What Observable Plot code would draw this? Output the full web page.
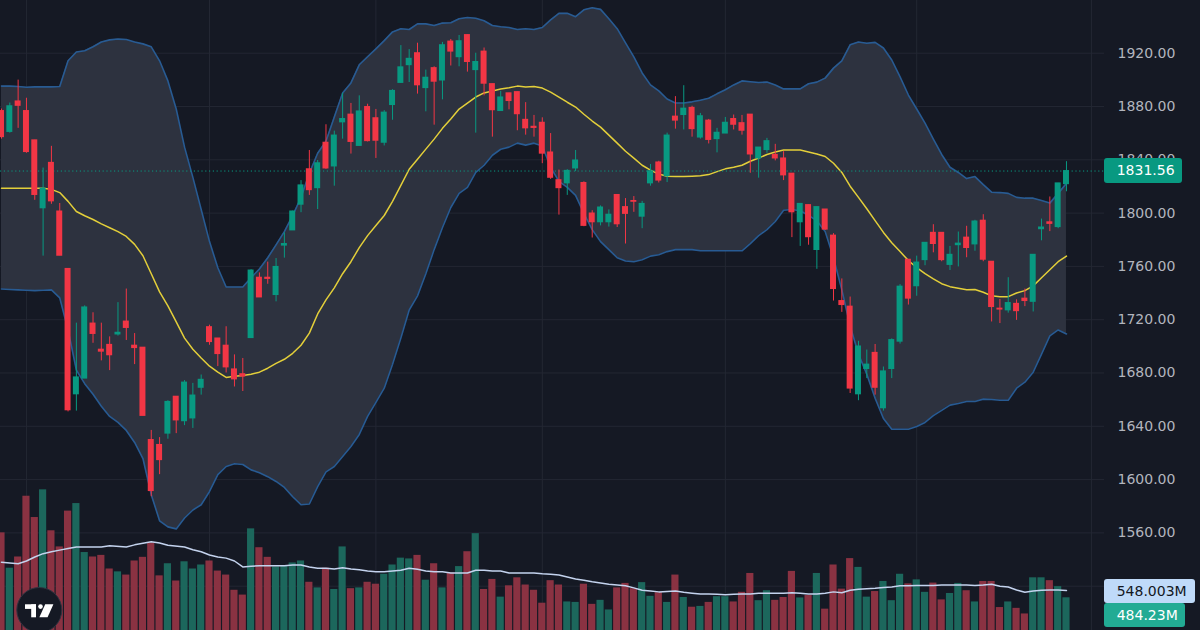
<!DOCTYPE html>
<html><head><meta charset="utf-8">
<script src="https://cdn.jsdelivr.net/npm/d3@7"></script>
<script src="https://cdn.jsdelivr.net/npm/@observablehq/plot@0.6"></script>
<style>
html,body{margin:0;padding:0;background:#151924;}
#chart{position:relative;width:1200px;height:630px;overflow:hidden;background:#151924;font-family:"DejaVu Sans",sans-serif;}
#chart svg{position:absolute;left:0;top:0;}
.lbl{position:absolute;box-sizing:border-box;font:14px "DejaVu Sans",sans-serif;white-space:nowrap;}
</style></head><body><div id="chart"></div>
<script>
// ---- candles (OHLC) ----
const opens = [1876.6,1860.9,1883.8,1876.6,1854.6,1803.6,1837.7,1801.2,1758.1,1664.0,
1675.8,1717.1,1697.5,1701.1,1708.9,1718.6,1700.5,1699.0,1629.7,1626.0,
1634.5,1662.2,1643.8,1645.9,1668.9,1714.4,1705.9,1700.5,1682.7,1679.1,
1706.2,1751.5,1751.5,1738.5,1775.6,1787.0,1806.3,1832.9,1818.7,1852.8,
1835.0,1868.1,1873.9,1850.4,1879.6,1871.2,1852.8,1881.1,1897.7,1911.0,
1920.0,1893.8,1908.8,1899.5,1928.7,1917.0,1933.6,1907.3,1921.2,1896.8,
1876.6,1889.9,1890.8,1870.0,1864.8,1867.8,1845.5,1824.7,1822.3,1833.5,
1822.6,1799.7,1793.1,1793.1,1813.6,1804.5,1809.1,1797.3,1822.3,1838.0,
1827.7,1872.4,1873.6,1879.0,1856.7,1869.4,1855.5,1859.7,1870.6,1867.5,
1873.9,1841.0,1847.3,1843.7,1841.0,1829.6,1793.1,1806.0,1772.3,1802.7,
1783.1,1734.0,1729.8,1664.0,1683.0,1695.1,1653.5,1683.0,1703.5,1765.0,
1745.1,1764.7,1785.2,1785.2,1761.1,1775.9,1781.6,1776.5,1794.3,1763.5,
1728.3,1727.0,1731.9,1735.8,1733.4,1787.9,1793.1,1789.5,1821.7];
const highs = [1878.1,1882.6,1899.8,1886.2,1854.6,1833.8,1850.1,1807.2,1758.1,1717.4,
1730.4,1725.2,1717.4,1707.1,1732.8,1743.0,1709.6,1699.0,1636.9,1631.5,
1659.2,1662.2,1674.3,1672.2,1678.5,1715.9,1705.9,1714.7,1693.6,1690.9,
1757.5,1755.1,1763.2,1765.9,1785.2,1801.5,1824.4,1847.0,1839.5,1866.3,
1861.5,1889.9,1882.3,1888.0,1881.7,1877.8,1876.9,1892.6,1925.7,1922.7,
1927.5,1907.3,1909.8,1928.1,1930.3,1933.3,1933.6,1920.0,1923.9,1896.8,
1891.4,1889.9,1890.8,1882.9,1873.3,1871.5,1859.7,1832.3,1832.6,1847.0,
1823.5,1801.8,1805.4,1802.4,1813.6,1810.9,1812.4,1808.8,1836.5,1838.9,
1860.0,1887.4,1895.6,1880.2,1874.8,1870.3,1863.6,1871.8,1873.6,1873.3,
1873.9,1849.2,1856.1,1851.6,1846.1,1829.6,1806.9,1806.0,1804.5,1802.7,
1784.6,1750.6,1737.0,1703.8,1697.2,1701.4,1684.5,1705.6,1746.3,1765.0,
1767.7,1777.7,1791.3,1785.2,1775.0,1785.8,1790.1,1794.6,1798.8,1763.5,
1735.2,1751.5,1734.9,1743.0,1768.7,1795.5,1812.1,1822.3,1838.6];
const lows = [1855.5,1860.0,1863.6,1844.9,1809.6,1767.7,1806.6,1768.0,1650.8,1651.4,
1675.8,1702.3,1689.1,1681.8,1707.7,1704.4,1686.3,1647.8,1587.1,1603.7,
1630.3,1634.5,1640.5,1638.4,1663.4,1700.8,1684.8,1680.0,1669.5,1666.1,
1706.2,1736.7,1746.6,1733.4,1766.2,1787.0,1800.3,1813.3,1802.7,1832.9,
1820.2,1855.5,1844.3,1850.4,1853.4,1841.0,1850.4,1869.7,1897.4,1898.0,
1889.3,1876.0,1866.0,1885.0,1910.4,1909.8,1905.8,1860.0,1888.0,1857.0,
1876.6,1877.5,1861.8,1858.5,1857.0,1837.1,1825.3,1798.5,1813.3,1831.1,
1789.8,1781.3,1790.4,1789.5,1789.2,1776.8,1800.6,1788.3,1820.2,1822.6,
1822.9,1863.0,1862.4,1857.0,1855.5,1851.9,1845.2,1859.7,1862.4,1858.5,
1829.9,1826.2,1844.9,1839.2,1824.4,1781.6,1775.0,1775.9,1757.8,1787.0,
1734.0,1725.5,1664.6,1659.2,1675.8,1663.4,1651.4,1675.8,1701.7,1731.0,
1737.6,1760.5,1770.2,1763.5,1756.9,1759.6,1766.5,1771.4,1763.5,1718.3,
1717.1,1724.9,1719.5,1729.8,1725.8,1779.2,1786.1,1788.3,1816.0];
const closes = [1857.0,1880.2,1880.5,1845.8,1813.6,1818.4,1808.8,1768.0,1652.0,1676.7,
1729.2,1709.3,1696.0,1693.3,1710.2,1713.8,1698.7,1647.8,1591.4,1614.6,
1658.3,1644.4,1672.8,1663.1,1674.9,1703.2,1694.2,1684.2,1675.2,1677.3,
1756.9,1736.7,1750.6,1759.6,1776.8,1801.2,1820.8,1817.2,1837.4,1833.5,
1858.2,1870.6,1853.4,1876.3,1854.0,1854.3,1875.4,1891.7,1909.4,1915.8,
1895.9,1901.6,1898.6,1926.0,1921.2,1929.0,1913.4,1913.4,1897.1,1877.2,
1886.8,1884.1,1874.2,1863.6,1863.9,1844.6,1826.5,1818.7,1831.7,1839.5,
1790.4,1793.1,1804.2,1798.8,1791.6,1799.4,1808.5,1806.9,1831.4,1824.4,
1858.2,1869.4,1878.4,1863.0,1872.7,1854.9,1860.3,1867.8,1866.3,1861.8,
1844.0,1849.2,1854.0,1841.0,1828.3,1800.6,1806.9,1781.9,1804.5,1787.6,
1743.0,1731.0,1668.3,1699.9,1686.3,1668.9,1681.2,1704.7,1744.8,1735.8,
1762.9,1777.7,1776.8,1764.7,1768.7,1777.1,1773.8,1793.7,1765.0,1729.5,
1727.6,1732.5,1726.4,1734.0,1768.7,1789.2,1791.9,1822.3,1831.56];

// ---- volume (millions) ----
const volumes = [1052,743,841,1372,1186,1428,1070,929,1242,1308,
880,841,855,736,711,683,806,838,964,676,
782,631,799,736,771,806,718,683,550,508,
1087,922,838,754,761,789,806,620,571,743,
557,929,564,571,620,603,690,771,831,824,
855,638,782,571,701,757,887,1045,557,645,
490,589,659,596,550,437,634,596,448,444,
603,427,462,378,571,610,564,617,497,529,
444,683,487,402,409,444,494,494,448,532,
697,459,546,462,487,715,483,504,697,385,
771,560,827,750,490,539,627,459,690,606,
641,532,613,466,522,610,546,448,627,627,
399,448,392,343,659,659,634,582,484.23];
const volMaIdx = [0,2,3,4,5,6,7,8,9,12,13,15,16,18,19,20,22,23,24,25,26,27,28,29,30,31,34,35,36,37,38,39,40,41,42,43,44,45,46,47,48,49,50,51,52,53,54,56,57,58,59,60,61,64,65,66,67,68,69,70,71,72,73,74,75,76,77,78,79,80,81,82,83,84,85,86,87,88,89,90,91,94,95,96,97,98,99,100,101,102,103,104,105,106,107,108,109,110,112,113,116,117,118,119,120,121,122,123,124,125,126,127,128];
const volMaVals = [796,782,806,841,870,887,901,915,929,929,940,929,947,975,964,943,929,905,887,859,841,831,806,754,761,764,764,771,771,754,743,743,736,747,736,729,718,711,711,718,725,743,733,718,711,711,701,701,725,725,718,718,701,701,694,690,683,666,648,638,624,613,603,596,589,571,550,543,536,539,543,532,525,518,518,515,511,515,518,518,525,525,529,525,518,518,525,536,529,550,560,564,567,575,578,589,589,592,592,596,596,592,596,603,585,578,553,532,543,550,553,553,548.003];

// ---- Bollinger bands (read per candle) ----
const bbUpper = [1895.3,1895.3,1895.0,1894.4,1894.7,1894.7,1894.7,1895.0,1914.3,1920.9,
1921.8,1924.8,1928.4,1930.0,1930.6,1930.3,1928.4,1927.0,1924.8,1914.3,
1899.2,1878.1,1849.5,1826.8,1802.7,1778.6,1759.0,1744.5,1744.5,1744.5,
1751.5,1758.1,1766.5,1776.2,1786.1,1798.2,1811.8,1829.9,1844.9,1854.0,
1872.1,1890.2,1897.7,1911.3,1917.3,1923.3,1929.4,1936.0,1938.4,1937.8,
1942.0,1942.0,1940.8,1942.6,1942.9,1945.9,1946.8,1946.2,1944.4,1940.8,
1939.9,1939.3,1937.8,1938.4,1937.8,1939.3,1945.0,1949.9,1949.9,1947.4,
1952.6,1954.1,1952.9,1945.9,1938.4,1927.8,1917.3,1905.2,1896.2,1891.7,
1885.6,1882.6,1882.6,1883.5,1884.7,1886.2,1889.5,1892.6,1896.2,1899.2,
1898.6,1898.0,1898.3,1896.2,1893.2,1893.2,1893.2,1897.1,1898.3,1901.3,
1908.8,1914.3,1926.3,1928.4,1927.5,1928.1,1923.9,1914.9,1902.2,1888.6,
1878.1,1867.5,1855.5,1844.0,1834.4,1830.5,1825.9,1827.4,1821.4,1815.7,
1815.4,1814.8,1811.8,1811.2,1811.2,1809.4,1807.5,1814.8,1822.3];
const bbMiddle = [1818.7,1818.7,1818.7,1818.7,1818.7,1818.7,1817.8,1815.4,1808.8,1801.2,
1798.0,1795.2,1791.9,1789.0,1786.1,1782.5,1776.5,1768.0,1754.5,1740.9,
1730.4,1718.3,1706.2,1697.8,1691.2,1685.1,1680.6,1676.7,1677.6,1678.2,
1679.1,1680.6,1683.6,1687.2,1690.3,1694.8,1700.8,1709.9,1724.3,1734.9,
1743.9,1754.5,1763.5,1774.1,1783.1,1790.7,1798.2,1808.8,1820.8,1832.9,
1840.4,1848.0,1855.5,1863.6,1870.6,1878.1,1882.6,1887.1,1890.2,1891.7,
1893.2,1894.1,1895.3,1894.7,1895.0,1893.8,1890.8,1887.1,1883.2,1879.6,
1874.2,1869.1,1864.5,1858.5,1852.5,1846.4,1841.3,1835.9,1832.3,1829.3,
1827.7,1827.4,1827.4,1827.7,1828.0,1828.9,1831.1,1833.2,1834.4,1835.9,
1838.9,1841.3,1844.0,1845.8,1847.3,1847.3,1847.3,1845.8,1844.3,1842.5,
1837.4,1830.5,1820.2,1811.8,1803.3,1794.3,1785.5,1777.7,1771.1,1764.4,
1759.0,1754.5,1750.6,1747.0,1744.8,1743.6,1742.4,1742.7,1740.6,1737.9,
1737.3,1737.3,1740.0,1741.8,1745.4,1751.5,1757.5,1763.5,1767.7];
const bbLower = [1743.0,1742.7,1742.4,1742.1,1741.8,1742.1,1742.4,1736.4,1712.3,1682.1,
1672.0,1664.0,1655.0,1647.4,1642.9,1636.9,1627.9,1615.8,1588.7,1569.1,
1564.5,1563.0,1571.2,1577.2,1581.1,1591.1,1603.7,1609.8,1611.9,1611.3,
1607.3,1605.2,1602.2,1598.6,1594.1,1587.1,1581.1,1581.7,1594.7,1605.8,
1609.8,1617.3,1624.8,1633.9,1647.4,1658.0,1668.6,1686.6,1706.2,1727.3,
1737.9,1754.5,1772.6,1789.2,1804.2,1814.8,1819.3,1830.5,1835.9,1843.4,
1847.9,1849.5,1852.5,1851.0,1852.5,1850.4,1834.4,1823.8,1819.3,1813.3,
1799.7,1787.6,1778.6,1772.6,1766.5,1764.1,1763.5,1765.0,1767.7,1768.7,
1771.1,1772.6,1772.6,1772.6,1771.7,1771.7,1771.7,1771.7,1771.7,1771.7,
1777.1,1783.1,1787.6,1793.7,1802.1,1802.7,1801.8,1798.2,1794.3,1786.1,
1766.5,1742.4,1715.3,1694.2,1679.1,1661.0,1645.9,1637.8,1637.8,1637.8,
1639.9,1642.9,1648.0,1652.0,1655.9,1657.1,1658.6,1658.6,1660.4,1660.1,
1659.5,1659.5,1668.6,1673.1,1680.6,1694.2,1707.8,1712.3,1709.3];

// ---- axis ----
const priceTicks = [1560,1600,1640,1680,1720,1760,1800,1840,1880,1920];
const gridTicks = [1520,1560,1600,1640,1680,1720,1760,1800,1840,1880,1920];
const monthStarts = [3,25,45,65,87,110,131];

// ---- build ----
const GREEN = "#089981", RED = "#f23645";
const VOL_UP = "#1c675c", VOL_DOWN = "#8a3242";
const GRID = "#232733", BAND_FILL = "#2d323f", BAND_LINE = "#285b93", MID = "#e3cf3a";

const candles = d3.range(opens.length).map(i => ({
  i, open: opens[i], high: highs[i], low: lows[i], close: closes[i], vol: volumes[i],
  up: closes[i] >= opens[i]
}));
const bands = d3.range(bbUpper.length).map(i => ({i, upper: bbUpper[i], mid: bbMiddle[i], lower: bbLower[i]}));
const vma = volMaIdx.map((i, k) => ({i, v: volMaVals[k]}));
const last = candles[candles.length - 1];
const lastMa = volMaVals[volMaVals.length - 1];

const common = {
  width: 1200, height: 630,
  marginTop: 0, marginBottom: 0, marginLeft: 0, marginRight: 96,
  x: {type: "linear", domain: [-0.12, 132.57], axis: null},
  color: {type: "identity"},
  style: {background: "transparent", fontFamily: "DejaVu Sans", fontSize: "14px", overflow: "visible"}
};
const yPriceDomain = [1486.75, 1959.55];

const layerBack = Plot.plot({
  ...common,
  y: {domain: yPriceDomain, axis: null},
  marks: [
    Plot.ruleY(gridTicks, {stroke: GRID, strokeWidth: 1}),
    Plot.ruleX(monthStarts, {stroke: GRID, strokeWidth: 1}),
    Plot.areaY(bands, {x: "i", y1: "lower", y2: "upper", fill: BAND_FILL}),
    Plot.lineY(bands, {x: "i", y: "upper", stroke: BAND_LINE, strokeWidth: 1.6}),
    Plot.lineY(bands, {x: "i", y: "lower", stroke: BAND_LINE, strokeWidth: 1.6}),
    Plot.lineY(bands, {x: "i", y: "mid", stroke: MID, strokeWidth: 1.5})
  ]
});

const layerVol = Plot.plot({
  ...common,
  y: {domain: [198.4, 5705.3], axis: null},
  marks: [
    Plot.rect(candles, {x1: d => d.i - 0.43, x2: d => d.i + 0.43, y1: 0, y2: "vol",
      fill: d => d.up ? VOL_UP : VOL_DOWN, clip: true}),
    Plot.lineY(vma, {x: "i", y: "v", stroke: "#c4d3ee", strokeWidth: 1.5})
  ]
});

const layerFront = Plot.plot({
  ...common,
  y: {domain: yPriceDomain, axis: null},
  marks: [
    Plot.ruleY([last.close], {stroke: GREEN, strokeWidth: 1, strokeDasharray: "1.2,2.6"}),
    Plot.ruleX(candles, {x: "i", y1: "low", y2: "high", stroke: d => d.up ? GREEN : RED, strokeWidth: 1}),
    Plot.rect(candles, {x1: d => d.i - 0.36, x2: d => d.i + 0.36, y1: "open", y2: "close",
      fill: d => d.up ? GREEN : RED, insetTop: -0.5, insetBottom: -0.5}),
    Plot.axisY(priceTicks, {anchor: "right", tickSize: 0, tickPadding: 13, label: null,
      tickFormat: d => d.toFixed(2), fill: "#b2b5be", fontSize: 14})
  ]
});

const chart = document.getElementById("chart");
[layerBack, layerVol, layerFront].forEach(el => { el.style.position = "absolute"; el.style.left = "0px"; el.style.top = "0px"; chart.appendChild(el); });

function box(text, top, left, w, h, bg, color) {
  const d = document.createElement("div");
  d.className = "lbl";
  Object.assign(d.style, {left: left + "px", top: top + "px", width: w + "px", height: h + "px",
    lineHeight: h + "px", background: bg, color, paddingLeft: "12.7px", borderRadius: "3px"});
  d.textContent = text;
  chart.appendChild(d);
}
const yP = layerFront.scale("y"), yV = layerVol.scale("y");
const frameRight = 1200 - 96;
box(last.close.toFixed(2), yP.apply(last.close) - 12.5, frameRight, 78, 25, GREEN, "#ffffff");
const maTop = yV.apply(lastMa) - 11;
box(lastMa + "M", maTop, frameRight, 91, 24, "#bfdaf9", "#131722");
box(last.vol + "M", maTop + 24, frameRight, 81, 24, "#22ab94", "#ffffff");

// TradingView logo badge
const logo = d3.select(chart).append("svg")
  .attr("width", 80).attr("height", 60)
  .style("position", "absolute").style("left", "0px").style("top", "570px");
logo.append("circle").attr("cx", 39.3).attr("cy", 40).attr("r", 22.5)
  .attr("fill", "#151924").attr("stroke", "#2f3340").attr("stroke-width", 1);
logo.append("rect").attr("x", 25).attr("y", 34.3).attr("width", 11).attr("height", 4.6).attr("fill", "#fff");
logo.append("rect").attr("x", 31.2).attr("y", 34.3).attr("width", 4.8).attr("height", 13).attr("fill", "#fff");
logo.append("circle").attr("cx", 40.5).attr("cy", 36.6).attr("r", 2.3).attr("fill", "#fff");
logo.append("polygon").attr("points", "45.2,34.3 53.4,34.3 47.6,47.3 39.4,47.3").attr("fill", "#fff");
</script></body></html>
